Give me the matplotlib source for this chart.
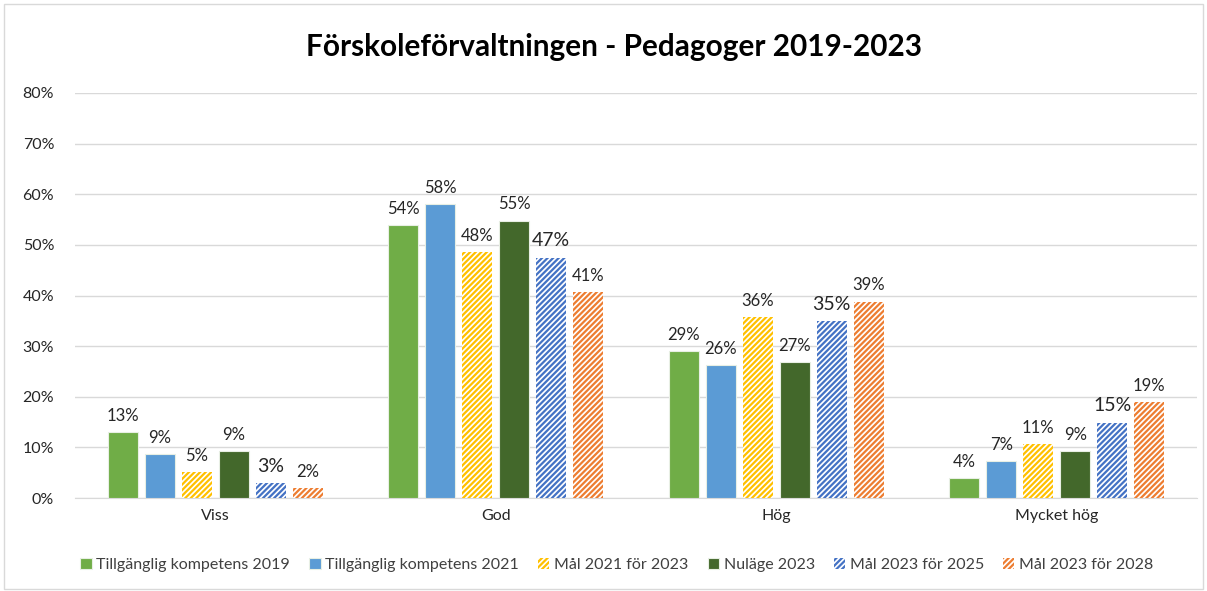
import matplotlib
matplotlib.use("Agg")
import matplotlib.pyplot as plt
import numpy as np

plt.rcParams['font.family'] = ['Lato', 'DejaVu Sans']
plt.rcParams['hatch.linewidth'] = 1.6

categories = ["Viss", "God", "Hög", "Mycket hög"]
series_names = ["Tillgänglig kompetens 2019", "Tillgänglig kompetens 2021", "Mål 2021 för 2023",
                "Nuläge 2023", "Mål 2023 för 2025", "Mål 2023 för 2028"]
s2019 = [13.0, 54.0, 29.1, 4.0]
s2021 = [8.7, 58.0, 26.3, 7.3]
m2021_2023 = [5.1, 48.6, 35.8, 10.7]
nu2023 = [9.3, 54.8, 26.9, 9.3]
m2023_2025 = [3.0, 47.5, 34.9, 14.9]
m2023_2028 = [2.0, 40.6, 38.8, 19.0]
values = [s2019, s2021, m2021_2023, nu2023, m2023_2025, m2023_2028]
labels = [["13%", "54%", "29%", "4%"],
          ["9%", "58%", "26%", "7%"],
          ["5%", "48%", "36%", "11%"],
          ["9%", "55%", "27%", "9%"],
          ["3%", "47%", "35%", "15%"],
          ["2%", "41%", "39%", "19%"]]
colors = ["#70ad47", "#5b9bd5", "#ffc000", "#43682b", "#4472c4", "#ed7d31"]
hatched = [False, False, True, False, True, True]
label_sizes = [12, 12, 12, 12, 14, 12]

fig = plt.figure(figsize=(12.07, 5.91), dpi=100)
ax = fig.add_axes([75/1207, 1-498/591, 1122/1207, 405/591])

x = np.arange(len(categories))
pitch = 0.132
width = 0.107
for i, (vals, c, h) in enumerate(zip(values, colors, hatched)):
    pos = x + (i - 2.5) * pitch
    if h:
        bars = ax.bar(pos, vals, width, facecolor="white", edgecolor=c, hatch="//////",
                      linewidth=0, label=series_names[i], zorder=3)
    else:
        bars = ax.bar(pos, vals, width, color=c, edgecolor="#e8efe4", linewidth=0.8,
                      label=series_names[i], zorder=3)
    for b, lab in zip(bars, labels[i]):
        ax.text(b.get_x() + b.get_width() / 2, b.get_height() + 1.6, lab,
                ha="center", va="bottom", fontsize=label_sizes[i], color="#262626")

ax.set_xlim(-0.5, 3.5)
ax.set_ylim(0, 80)
ax.set_yticks(np.arange(0, 81, 10))
ax.set_yticklabels([f"{v}%" for v in range(0, 81, 10)], fontsize=11.5, color="#262626")
ax.set_xticks(x)
ax.set_xticklabels(categories, fontsize=11.5, color="#262626")
ax.tick_params(axis="both", length=0, pad=8)
ax.tick_params(axis="y", pad=15)
ax.grid(axis="y", color="#d9d9d9", linewidth=1, zorder=0)
for s in ["top", "right", "left"]:
    ax.spines[s].set_visible(False)
ax.spines["bottom"].set_color("#d9d9d9")

fig.suptitle("Förskoleförvaltningen - Pedagoger 2019-2023", x=0.509, y=1-47/591, va="center",
             fontsize=21.4, fontweight="bold", color="black")

leg = fig.legend(loc="center", bbox_to_anchor=(617/1207, 1-565/591), ncol=6, frameon=False,
                 fontsize=11.5, handlelength=0.7, handleheight=0.7, handletextpad=0.3,
                 columnspacing=1.2)
for t in leg.get_texts():
    t.set_color("#404040")

fig.patches.append(plt.Rectangle((0.003, 0.003), 0.994, 0.99, transform=fig.transFigure,
                                 fill=False, edgecolor="#d9d9d9", linewidth=1))
fig.savefig("out.png", dpi=100, facecolor="white")
